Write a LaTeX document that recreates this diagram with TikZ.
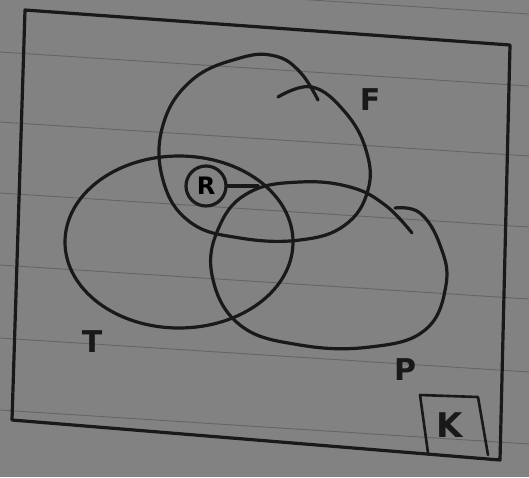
\documentclass[tikz,border=0pt]{standalone}
\usepackage{fontspec}
\setmainfont{DejaVu Sans}
\begin{document}
\begin{tikzpicture}[x=1pt,y=-1pt,
  ink/.style={draw=black!90,line width=3.2pt,line cap=round,line join=round},
  lbl/.style={font=\fontsize{30}{30}\selectfont\bfseries,text=black!90,inner sep=0pt},
  rule/.style={draw=black,line width=0.9pt,opacity=0.22}]
\useasboundingbox (0,0) rectangle (529,477);
\fill[gray!60!black!70] (0,0) rectangle (529,477);
% paper rules
\foreach \y in {-20,52,122,193,265,338,410,482}
  \draw[rule] (0,\y) -- (529,\y+34);
% frame
\coordinate (tl) at (25,10);
\coordinate (tr) at (510,45);
\coordinate (br) at (500,460);
\coordinate (bl) at (12,420);
\draw[ink] (tl) -- (tr) -- (br) -- (bl) -- cycle;
% set F
\draw[ink] plot[smooth,tension=0.7] coordinates {(278,97) (312,87) (345,112) (366,150) (368,190) (345,225) (300,240) (240,238) (190,222) (163,180) (163,125) (192,80) (240,58) (275,56) (300,72) (318,100)};
% set T
\draw[ink] (179,242) ellipse [x radius=114, y radius=86];
% set P
\draw[ink] plot[smooth,tension=0.7] coordinates {(395,208) (420,213) (440,245) (446,285) (425,330) (370,347) (300,345) (240,325) (212,275) (220,225) (250,192) (300,182) (350,187) (385,205) (412,233)};
% R element
\node[ink,circle,minimum size=40pt,inner sep=0pt,font=\fontsize{24}{24}\selectfont\bfseries] (r) at (206,186) {R};
\coordinate (rp) at (258,186);
\draw[ink] (r.east) -- (rp);
% labels
\node[lbl] (f) at (370,100) {F};
\node[lbl] (t) at (92,342) {T};
\node[lbl] (p) at (405,370) {P};
% K box
\coordinate (k1) at (428,453);
\coordinate (k2) at (420,395);
\coordinate (k3) at (478,397);
\coordinate (k4) at (488,455);
\draw[ink,line width=2.6pt] (k1) -- (k2) -- (k3) -- (k4);
\node[lbl,font=\fontsize{34}{34}\selectfont\bfseries] (k) at (450,425) {K};
\end{tikzpicture}
\end{document}
